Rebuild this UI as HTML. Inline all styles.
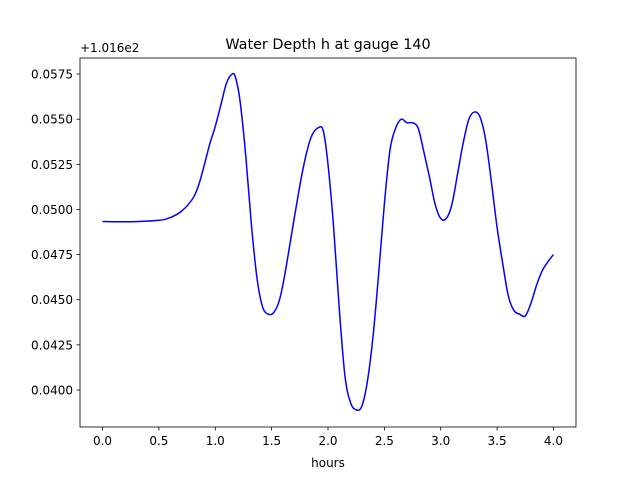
<!DOCTYPE html>
<html><head><meta charset="utf-8"><style>
body{margin:0;background:#fff;}
svg text{font-family:"DejaVu Sans","Liberation Sans",sans-serif;fill:#000;}
</style></head><body>
<svg id="chart" width="640" height="480" viewBox="0 0 640 480">
<rect width="640" height="480" fill="#fff"/>
<text x="328" y="49" font-size="14.4" text-anchor="middle">Water Depth h at gauge 140</text>
<text x="80" y="52" font-size="12">+1.016e2</text>
<g id="xticks"></g>
<g id="yticks"></g>
<path id="line" fill="none" stroke="#0000ff" stroke-width="1.5"/>
<rect x="80" y="58" width="496" height="369" fill="none" stroke="#000" stroke-width="0.8"/>
<text x="328" y="467" font-size="12" text-anchor="middle">hours</text>
</svg>
<script>
const times=[0,0.25,0.5,0.6,0.7,0.8,0.85,0.9,0.95,1.0,1.05,1.1,1.15,1.18,1.22,1.27,1.32,1.37,1.42,1.47,1.52,1.57,1.62,1.7,1.78,1.85,1.92,1.96,2.0,2.05,2.1,2.15,2.2,2.25,2.3,2.35,2.4,2.45,2.5,2.55,2.6,2.65,2.7,2.75,2.8,2.85,2.9,2.95,3.0,3.05,3.1,3.15,3.2,3.25,3.3,3.35,3.4,3.45,3.5,3.55,3.6,3.65,3.7,3.75,3.8,3.85,3.9,3.95,4.0];
const depths=[0.04933,0.04932,0.0494,0.04955,0.0499,0.0506,0.0513,0.0524,0.0536,0.0546,0.0558,0.0570,0.0575,0.0573,0.0560,0.0530,0.0492,0.0462,0.0446,0.0442,0.0443,0.0450,0.0465,0.0495,0.0523,0.0540,0.05455,0.0543,0.0525,0.0490,0.0445,0.0408,0.0393,0.0389,0.0391,0.0405,0.0430,0.0465,0.0503,0.0533,0.0545,0.0550,0.0548,0.0548,0.0545,0.0532,0.0518,0.0503,0.0495,0.0495,0.0503,0.0520,0.0537,0.0550,0.0554,0.0551,0.0538,0.0515,0.0490,0.0470,0.0452,0.0444,0.0442,0.0441,0.0448,0.0458,0.0466,0.0471,0.0475];
const xTickLabels=["0.0","0.5","1.0","1.5","2.0","2.5","3.0","3.5","4.0"];
const yTickLabels=["0.0400","0.0425","0.0450","0.0475","0.0500","0.0525","0.0550","0.0575"];
const NS="http://www.w3.org/2000/svg";
const xs=t=>80+(t+0.2)/4.4*496;
const ys=v=>390-(v-0.04)/0.0025*45.14;
const xg=document.getElementById('xticks'),yg=document.getElementById('yticks');
xTickLabels.forEach(l=>{const x=xs(parseFloat(l));
 const ln=document.createElementNS(NS,'line');
 
 
 ln.setAttribute('x1',x);ln.setAttribute('x2',x);ln.setAttribute('y1',427);ln.setAttribute('y2',430.5);ln.setAttribute('stroke','#000');ln.setAttribute('stroke-width','0.8');xg.appendChild(ln);
 const t=document.createElementNS(NS,'text');
 
 
 t.setAttribute('x',x);t.setAttribute('y',445);t.setAttribute('font-size','12');t.setAttribute('text-anchor','middle');t.textContent=l;xg.appendChild(t);});
yTickLabels.forEach(l=>{const y=ys(parseFloat(l));
 const ln=document.createElementNS(NS,'line');
 
 
 ln.setAttribute('x1',76.5);ln.setAttribute('x2',80);ln.setAttribute('y1',y);ln.setAttribute('y2',y);ln.setAttribute('stroke','#000');ln.setAttribute('stroke-width','0.8');yg.appendChild(ln);
 const t=document.createElementNS(NS,'text');
 
 
 t.setAttribute('x',73);t.setAttribute('y',y+4.5);t.setAttribute('font-size','12');t.setAttribute('text-anchor','end');t.textContent=l;yg.appendChild(t);});
const pts=times.map((t,i)=>[xs(t),ys(depths[i])]);
let d='M'+pts[0][0]+','+pts[0][1];
for(let i=0;i<pts.length-1;i++){
 const p0=pts[i-1]||pts[i],p1=pts[i],p2=pts[i+1],p3=pts[i+2]||p2;
 const c1=[p1[0]+(p2[0]-p0[0])/6,p1[1]+(p2[1]-p0[1])/6];
 const c2=[p2[0]-(p3[0]-p1[0])/6,p2[1]-(p3[1]-p1[1])/6];
 d+=' C'+c1+' '+c2+' '+p2;}
document.getElementById('line').setAttribute('d',d);
</script>
</body></html>
